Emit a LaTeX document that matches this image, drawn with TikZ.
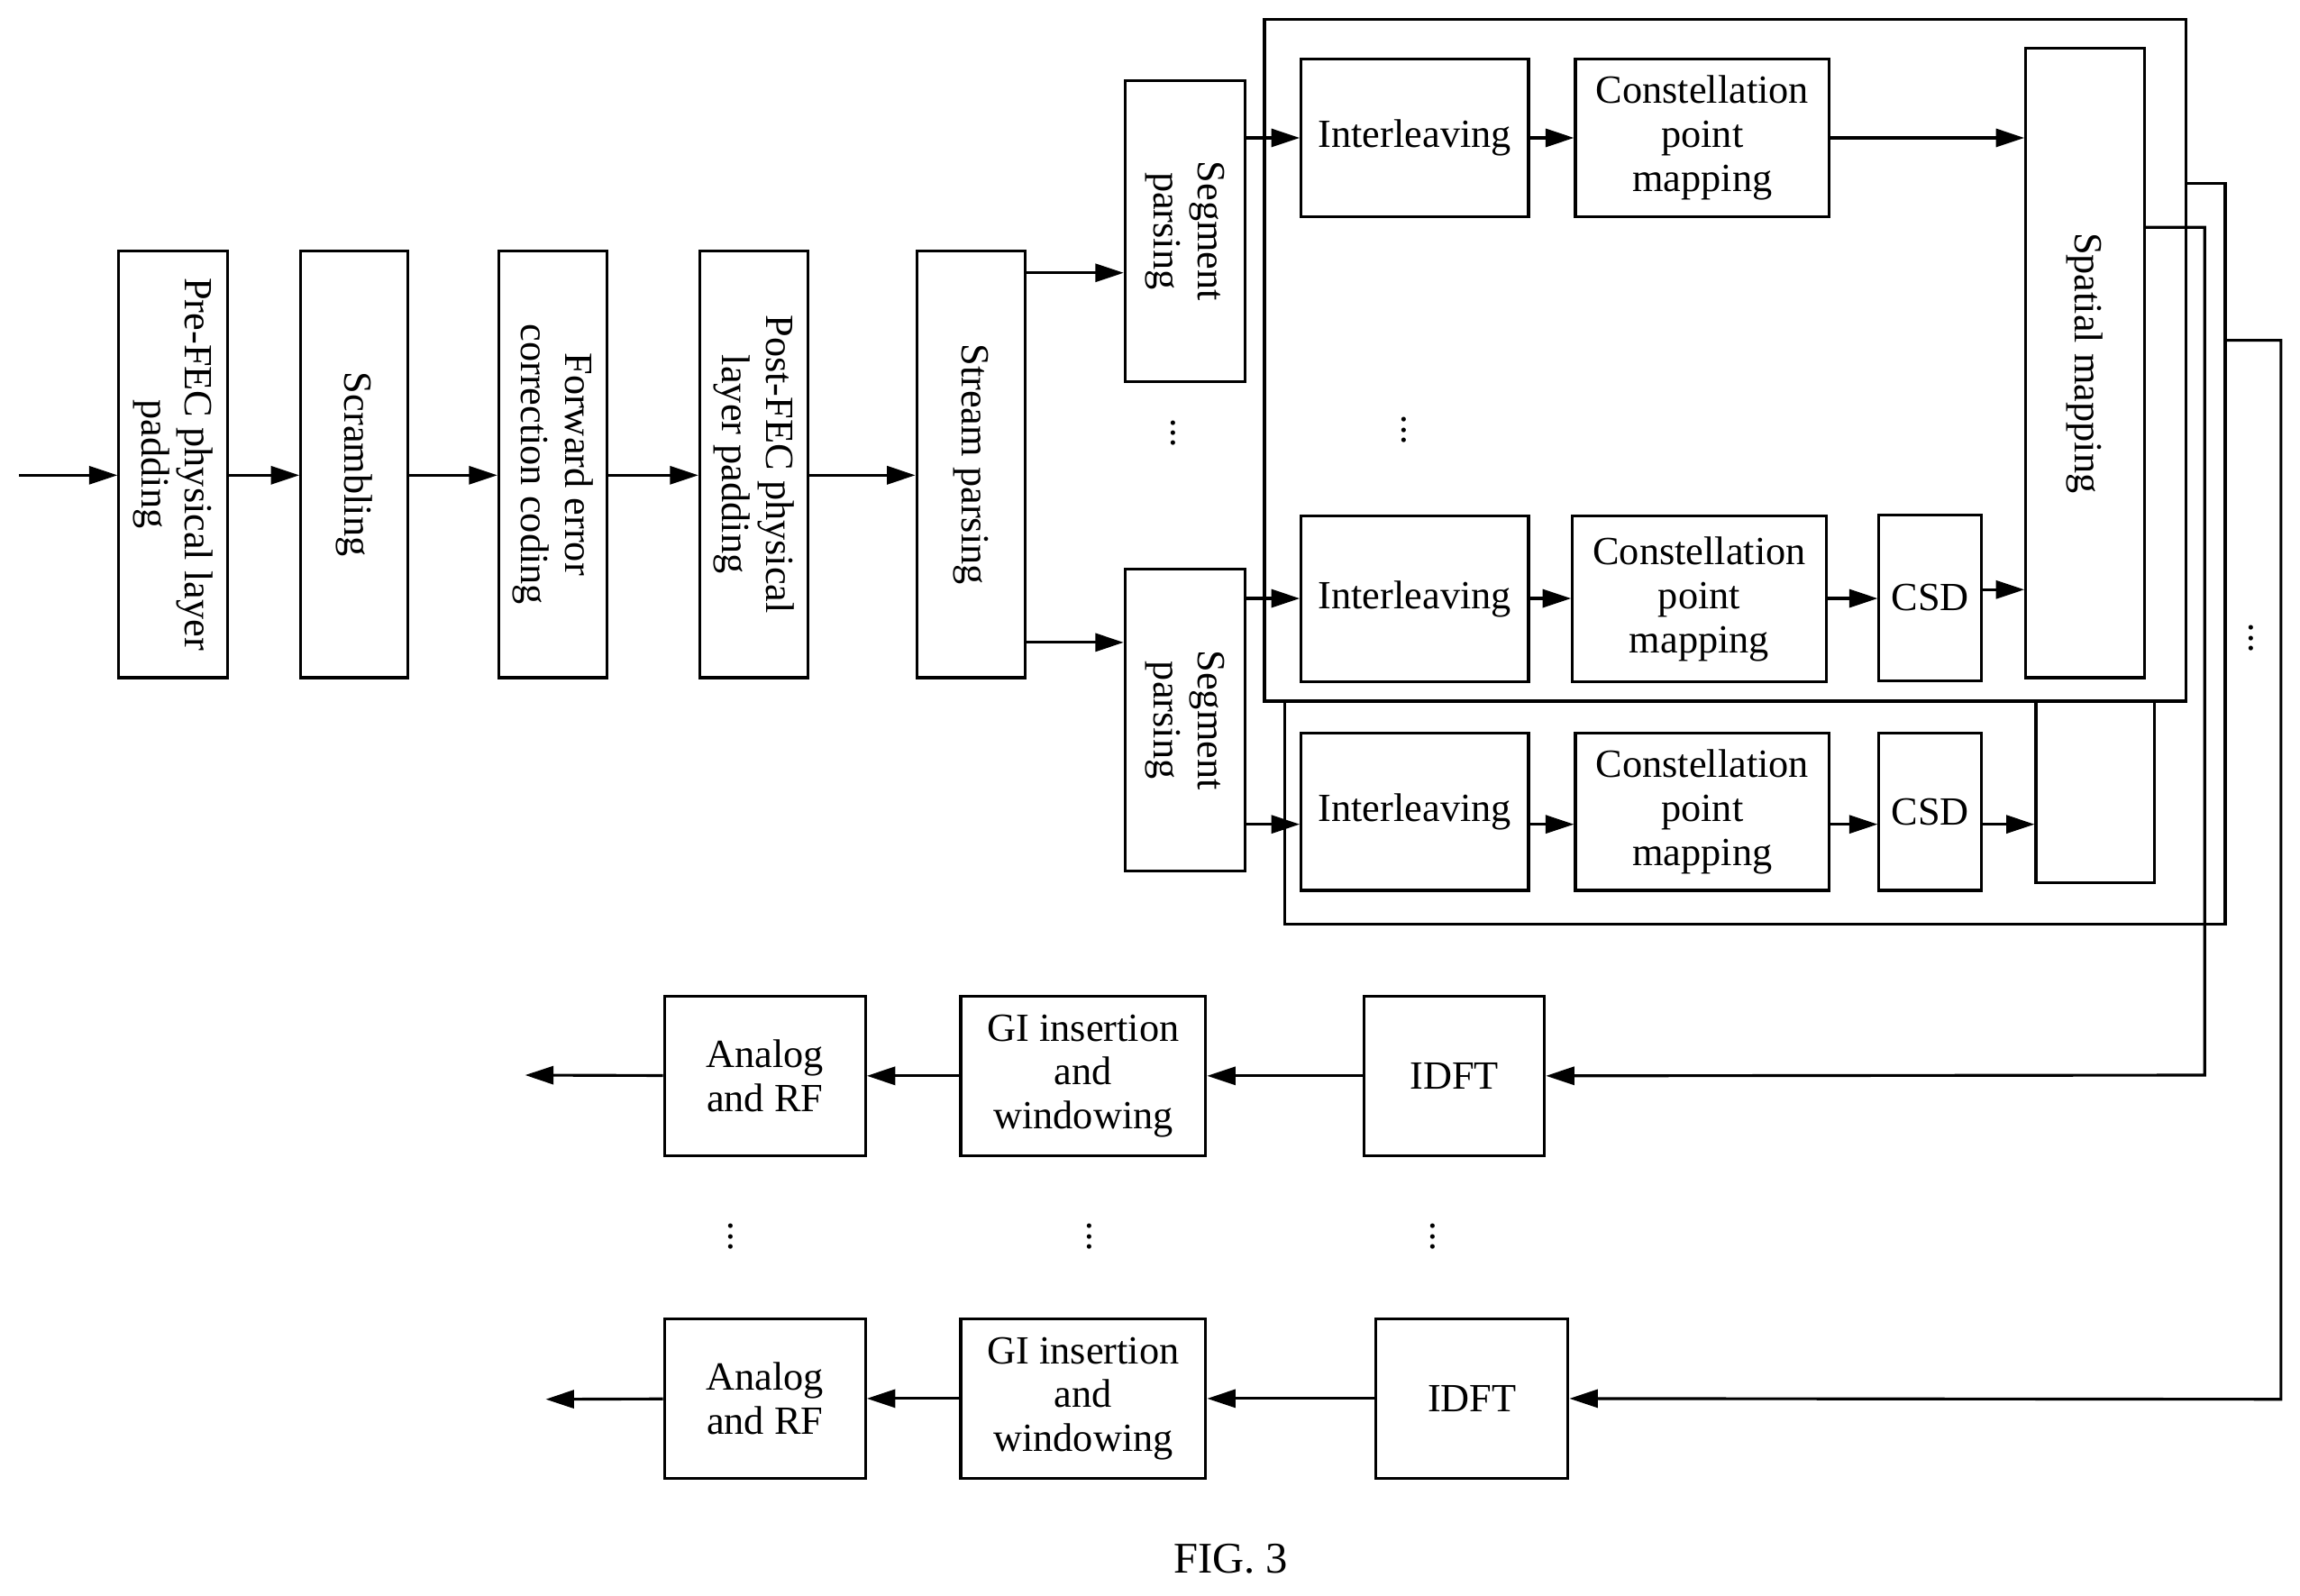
\documentclass[tikz,border=0pt]{standalone}
\usepackage{fontspec}
\setmainfont{Liberation Serif}
\usetikzlibrary{arrows.meta}
\begin{document}
\begin{tikzpicture}[x=0.2mm,y=-0.2mm,
 box/.style={draw,line width=1.1pt,fill=white,align=center,inner sep=1pt,font=\fontsize{15.5}{17}\selectfont},
 ln/.style={line width=1.1pt},
 arr/.style={line width=1.1pt,-{Triangle[length=11pt,width=7pt]}},
 dots/.style={font=\fontsize{15}{17}\selectfont}]
\useasboundingbox (0,0) rectangle (1568,1088);
\newcommand\bx[7][]{\node[box,#1,minimum width={(#5-#3)*0.2mm},minimum height={(#6-#4)*0.2mm}] (#2) at ({(#3+#5)/2},{(#4+#6)/2}) {#7};}
\newcommand\rbx[7][]{\node[box,rotate=-90,#1,minimum height={(#5-#3)*0.2mm},minimum width={(#6-#4)*0.2mm}] (#2) at ({(#3+#5)/2},{(#4+#6)/2}) {#7};}
% left chain (rotated boxes: visual left = .south, visual right = .north)
\coordinate (in) at (13,324);
\rbx{pre}{81}{171}{155}{462}{Pre-FEC physical layer\\padding}
\rbx{scr}{205}{171}{278}{462}{Scrambling}
\rbx{fec}{340}{171}{414}{462}{Forward error\\correction coding}
\rbx{post}{477}{171}{551}{462}{Post-FEC physical\\layer padding}
\rbx{sp}{625}{171}{699}{462}{Stream parsing}
\rbx{seg1}{767}{55}{849}{260}{Segment\\parsing}
\rbx{seg2}{767}{388}{849}{594}{Segment\\parsing}
\draw[arr] (in) -- (pre.south |- in);
\draw[arr] (pre.north |- in) -- (scr.south |- in);
\draw[arr] (scr.north |- in) -- (fec.south |- in);
\draw[arr] (fec.north |- in) -- (post.south |- in);
\draw[arr] (post.north |- in) -- (sp.south |- in);
\draw[arr] (sp.north |- 0,186) -- (seg1.south |- 0,186);
\draw[arr] (sp.north |- 0,438) -- (seg2.south |- 0,438);
\node[dots] (d1) at (800,290) {\vdots};
% back layer
\node[draw,line width=1.1pt,fill=white,minimum width={641*0.2mm},minimum height={505*0.2mm},inner sep=0pt] (back) at ({(876+1517)/2},{(125+630)/2}) {};
\bx{il3}{887}{500}{1042}{607}{Interleaving}
\bx{cp3}{1074}{500}{1247}{607}{Constellation\\point\\mapping}
\bx{csd3}{1281}{500}{1351}{607}{CSD}
\bx{sm3}{1388}{470}{1469}{602}{}
% front layer
\node[draw,line width=1.1pt,fill=white,minimum width={628*0.2mm},minimum height={465*0.2mm},inner sep=0pt] (front) at ({(862+1490)/2},{(13+478)/2}) {};
\bx{il1}{887}{40}{1042}{148}{Interleaving}
\bx{cp1}{1074}{40}{1247}{148}{Constellation\\point\\mapping}
\rbx{sm}{1381}{33}{1462}{462}{Spatial mapping}
\bx{il2}{887}{352}{1042}{465}{Interleaving}
\bx{cp2}{1072}{352}{1245}{465}{Constellation\\point\\mapping}
\bx{csd2}{1281}{351}{1351}{464}{CSD}
\node[dots] (d2) at (957,288) {\vdots};
\draw[arr] (seg1.north |- 0,94) -- (il1.west |- 0,94);
\draw[arr] (il1.east |- 0,94) -- (cp1.west |- 0,94);
\draw[arr] (cp1.east |- 0,94) -- (sm.south |- 0,94);
\draw[arr] (seg2.north |- 0,408) -- (il2.west |- 0,408);
\draw[arr] (il2.east |- 0,408) -- (cp2.west |- 0,408);
\draw[arr] (cp2.east |- 0,408) -- (csd2.west |- 0,408);
\draw[arr] (csd2.east |- 0,402) -- (sm.south |- 0,402);
\draw[arr] (seg2.north |- 0,562) -- (il3.west |- 0,562);
\draw[arr] (il3.east |- 0,562) -- (cp3.west |- 0,562);
\draw[arr] (cp3.east |- 0,562) -- (csd3.west |- 0,562);
\draw[arr] (csd3.east |- 0,562) -- (sm3.west |- 0,562);
\draw[ln] (front.east |- 0,125) -- (back.east |- 0,125);
% outputs
\bx{idft1}{930}{679}{1053}{788}{IDFT}
\bx{gi1}{655}{679}{822}{788}{GI insertion\\and\\windowing}
\bx{an1}{453}{679}{590}{788}{Analog\\and RF}
\bx{idft2}{938}{899}{1069}{1008}{IDFT}
\bx{gi2}{655}{899}{822}{1008}{GI insertion\\and\\windowing}
\bx{an2}{453}{899}{590}{1008}{Analog\\and RF}
\coordinate (o1) at (358,733);
\coordinate (o2) at (372,954);
\draw[arr] (sm.north |- 0,155) -- (1503,155) -- (1503,733) -- (idft1.east);
\draw[arr] (back.east |- 0,232) -- (1555,232) -- (1555,954) -- (idft2.east);
\draw[arr] (idft1) -- (gi1);
\draw[arr] (gi1) -- (an1);
\draw[arr] (an1) -- (o1);
\draw[arr] (idft2) -- (gi2);
\draw[arr] (gi2) -- (an2);
\draw[arr] (an2) -- (o2);
\node[dots] (d3) at (1535,430) {\vdots};
\node[dots] (d4) at (498,838) {\vdots};
\node[dots] (d5) at (743,838) {\vdots};
\node[dots] (d6) at (977,838) {\vdots};
\node[font=\fontsize{17}{19}\selectfont] (fig) at (839,1063) {FIG. 3};
\end{tikzpicture}
\end{document}
